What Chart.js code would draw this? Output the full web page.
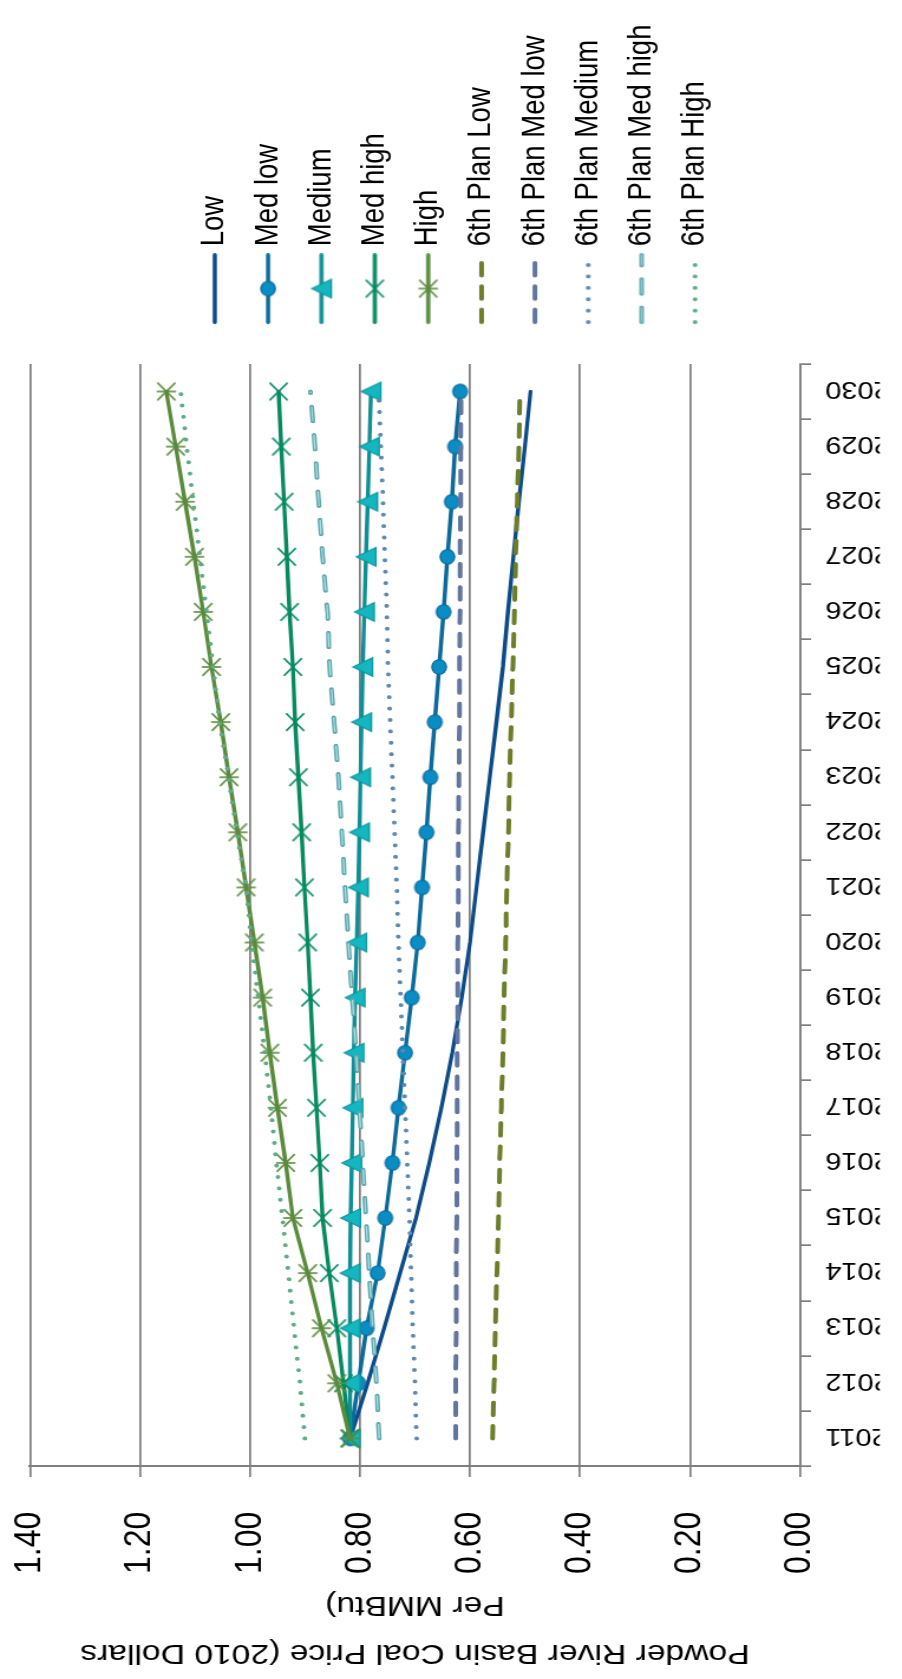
<!DOCTYPE html>
<html>
<head>
<meta charset="utf-8">
<title>Powder River Basin Coal Price</title>
<script src="https://cdn.jsdelivr.net/npm/chart.js@4.4.1/dist/chart.umd.min.js"></script>
<style>
  html, body { margin: 0; padding: 0; background: #ffffff; width: 902px; height: 1679px; overflow: hidden; }
  /* The chart is laid out landscape and turned a quarter turn counter-clockwise onto the page */
  #wrap { position: absolute; left: 0; top: 0; width: 1679px; height: 764px;
          transform-origin: 0 0; transform: matrix(0, -1, 1.1806, 0, 0, 1679); }
  canvas { display: block; }
</style>
</head>
<body>
<div id="wrap"><canvas id="chart" width="1679" height="764"></canvas></div>
<script>
const FONT = "'Liberation Sans', Arial, Helvetica, sans-serif";

const years = ['2011','2012','2013','2014','2015','2016','2017','2018','2019','2020',
               '2021','2022','2023','2024','2025','2026','2027','2028','2029','2030'];

const low      = [0.818,0.786,0.756,0.727,0.698,0.674,0.652,0.632,0.615,0.600,0.588,0.576,0.564,0.552,0.540,0.531,0.521,0.511,0.500,0.490];
const medLow   = [0.818,0.803,0.788,0.768,0.754,0.741,0.730,0.718,0.706,0.695,0.687,0.679,0.672,0.664,0.656,0.648,0.641,0.633,0.627,0.618];
const medium   = [0.818,0.818,0.818,0.818,0.817,0.815,0.813,0.811,0.809,0.806,0.803,0.801,0.799,0.797,0.795,0.792,0.789,0.786,0.783,0.780];
const medHigh  = [0.818,0.830,0.842,0.856,0.868,0.873,0.879,0.885,0.890,0.895,0.901,0.906,0.912,0.918,0.922,0.928,0.933,0.938,0.943,0.948];
const high     = [0.818,0.842,0.870,0.895,0.922,0.935,0.950,0.964,0.977,0.992,1.007,1.022,1.038,1.053,1.070,1.085,1.101,1.118,1.135,1.152];
const planLow     = [0.559,0.556,0.554,0.551,0.548,0.546,0.543,0.540,0.538,0.535,0.533,0.530,0.528,0.525,0.522,0.519,0.517,0.514,0.511,0.509];
const planMedLow  = [0.626,0.626,0.625,0.625,0.624,0.624,0.623,0.623,0.622,0.622,0.621,0.621,0.620,0.619,0.619,0.618,0.618,0.617,0.617,0.616];
const planMedium  = [0.697,0.700,0.704,0.707,0.710,0.714,0.718,0.722,0.726,0.730,0.733,0.737,0.741,0.745,0.749,0.751,0.755,0.758,0.762,0.766];
const planMedHigh = [0.765,0.770,0.777,0.783,0.789,0.795,0.801,0.807,0.814,0.821,0.827,0.833,0.839,0.847,0.855,0.859,0.868,0.875,0.882,0.890];
const planHigh    = [0.900,0.909,0.920,0.930,0.941,0.952,0.962,0.973,0.985,0.997,1.007,1.024,1.039,1.055,1.067,1.079,1.091,1.103,1.115,1.126];

const valueTicks = [0, 0.2, 0.4, 0.6, 0.8, 1.0, 1.2, 1.4];
const axisTitle = ['Powder River Basin Coal Price (2010 Dollars', 'Per MMBtu)'];

// small offscreen canvases used as marker glyphs
function makeImg(w, h, draw) {
  const c = document.createElement('canvas');
  c.width = w; c.height = h;
  draw(c.getContext('2d'), w, h);
  return c;
}
const circleMark = makeImg(18, 16, (g, w, h) => {
  g.beginPath(); g.ellipse(w / 2, h / 2, 7.3, 6.2, 0, 0, Math.PI * 2);
  g.fillStyle = '#0a8cc4'; g.fill();
  g.lineWidth = 1.2; g.strokeStyle = '#0b6a98'; g.stroke();
});
const triangleMark = makeImg(22, 20, (g, w, h) => {
  g.beginPath();
  g.moveTo(w / 2, h / 2 - 8.3);
  g.lineTo(w / 2 + 9.3, h / 2 + 8.3);
  g.lineTo(w / 2 - 9.3, h / 2 + 8.3);
  g.closePath();
  g.fillStyle = '#14b6c0'; g.fill();
  g.lineWidth = 1.2; g.strokeStyle = '#0f969b'; g.stroke();
});
function crossMark(color, withBar) {
  return makeImg(22, 20, (g, w, h) => {
    const cx = w / 2, cy = h / 2, rx = 8.8, ry = 7.6;
    g.strokeStyle = color; g.lineWidth = 1.6;
    g.beginPath();
    g.moveTo(cx - rx, cy - ry); g.lineTo(cx + rx, cy + ry);
    g.moveTo(cx + rx, cy - ry); g.lineTo(cx - rx, cy + ry);
    if (withBar) { g.moveTo(cx, cy - ry - 0.6); g.lineTo(cx, cy + ry + 0.6); }
    g.stroke();
  });
}
const xMark = crossMark('#078a60', false);
const starMark = crossMark('#5a8b3c', true);

const DASH = [12.5, 10.8];
const LONG_DASH = [14.5, 13.8];
const DOT = [0.01, 11.4];

function series(label, data, color, opts) {
  return Object.assign({
    label, data, borderColor: color, backgroundColor: color,
    borderWidth: 3.4, borderCapStyle: 'round', borderJoinStyle: 'round',
    tension: 0, fill: false, pointRadius: 0, pointHoverRadius: 0
  }, opts || {});
}

const datasets = [
  series('Low', low, '#0b4b87', { order: 20 }),
  series('Med low', medLow, '#0b6a99', { order: 19, pointStyle: circleMark, pointRadius: 7 }),
  series('Medium', medium, '#0f8f95', { order: 18, pointStyle: triangleMark, pointRadius: 8 }),
  series('Med high', medHigh, '#078a60', { order: 17, pointStyle: xMark, pointRadius: 8 }),
  series('High', high, '#5a8b3c', { order: 16, pointStyle: starMark, pointRadius: 8 }),
  series('6th Plan Low', planLow, '#6c7e2a', { order: 15, borderWidth: 4, borderDash: DASH }),
  series('6th Plan Med low', planMedLow, '#62759f', { order: 14, borderWidth: 4, borderDash: DASH }),
  series('6th Plan Medium', planMedium, '#5d88b0', { order: 13, borderWidth: 4, borderDash: DOT }),
  series('6th Plan Med high', planMedHigh, '#5fa7ad', { order: 12, borderWidth: 4, borderDash: LONG_DASH }),
  series('6th Plan High', planHigh, '#5dab87', { order: 11, borderWidth: 4, borderDash: DOT }),
  // light core stripe of the compound "6th Plan Med high" line
  series('', planMedHigh, '#a9e2e5', { order: 11.5, borderWidth: 1.2, borderDash: LONG_DASH, borderCapStyle: 'butt' })
];

// legend samples: a short stretch of the line with its marker in the middle
const markers = [null, circleMark, triangleMark, xMark, starMark, null, null, null, null, null];
const legendImgs = datasets.slice(0, 10).map((ds, i) => makeImg(100, 22, (g, w, h) => {
  const lw = ds.borderWidth, x0 = 29, x1 = 100;
  g.strokeStyle = ds.borderColor; g.lineWidth = lw; g.lineCap = 'round';
  g.setLineDash(ds.borderDash || []);
  g.beginPath(); g.moveTo(x0 + lw / 2, h / 2); g.lineTo(x1 - lw / 2, h / 2); g.stroke();
  if (i === 8) {
    g.strokeStyle = '#a9e2e5'; g.lineWidth = 1.2; g.lineCap = 'butt';
    g.beginPath(); g.moveTo(x0 + lw / 2, h / 2); g.lineTo(x1 - lw / 2, h / 2); g.stroke();
  }
  const m = markers[i];
  if (m) g.drawImage(m, (x0 + x1) / 2 - m.width / 2, h / 2 - m.height / 2);
}));

const YEAR_FONT = 24.5;

new Chart(document.getElementById('chart'), {
  type: 'line',
  data: { labels: years, datasets },
  options: {
    responsive: false,
    animation: false,
    devicePixelRatio: 1,
    layout: { padding: { top: 25.4, right: 24, bottom: 18.8, left: 0 } },
    plugins: {
      tooltip: { enabled: false },
      title: { display: false },
      legend: {
        position: 'right',
        align: 'center',
        maxWidth: 340,
        labels: {
          usePointStyle: true,
          pointStyleWidth: 86.3,
          padding: 17.7,
          color: '#000000',
          font: { family: FONT, size: 27.5 },
          filter: (item) => item.datasetIndex < 10,
          sort: (a, b) => a.datasetIndex - b.datasetIndex,
          generateLabels(chart) {
            const items = Chart.defaults.plugins.legend.labels.generateLabels(chart);
            return items.map(it => Object.assign(it, { pointStyle: legendImgs[it.datasetIndex] || it.pointStyle }));
          }
        }
      }
    },
    scales: {
      x: {
        type: 'category',
        offset: true,
        grid: { offset: true, drawOnChartArea: false, drawTicks: true, tickLength: 9.5, color: '#7f7f7f', lineWidth: 1.7 },
        border: { display: true, color: '#7f7f7f', width: 1.7 },
        ticks: { autoSkip: false, minRotation: 90, maxRotation: 90, padding: 12, color: '#000000',
                 // small nudge so the upright year labels sit centred on their category
                 labelOffset: 3,
                 font: { family: FONT, size: YEAR_FONT } },
        afterFit(scale) { scale.height = 67.6; }
      },
      y: {
        min: valueTicks[0],
        max: valueTicks[valueTicks.length - 1],
        afterBuildTicks(scale) { scale.ticks = valueTicks.map(v => ({ value: v })); },
        ticks: { padding: 34.7, color: '#000000', font: { family: FONT, size: 32 },
                 callback: (v) => Number(v).toFixed(2) },
        grid: { color: '#7f7f7f', lineWidth: 1.7, tickLength: 11, drawTicks: true },
        border: { display: true, color: '#7f7f7f', width: 2 },
        title: { display: true, text: axisTitle, color: '#000000',
                 font: { family: FONT, size: 28.5, lineHeight: 1.68 }, padding: { top: 2, bottom: 0 } },
        afterFit(scale) {
          scale.width = 213;
          // the end labels only need half a line of room, not the label gap as well
          scale.paddingTop = 0;
          scale.paddingBottom = 0;
        }
      }
    }
  }
});
</script>
</body>
</html>
